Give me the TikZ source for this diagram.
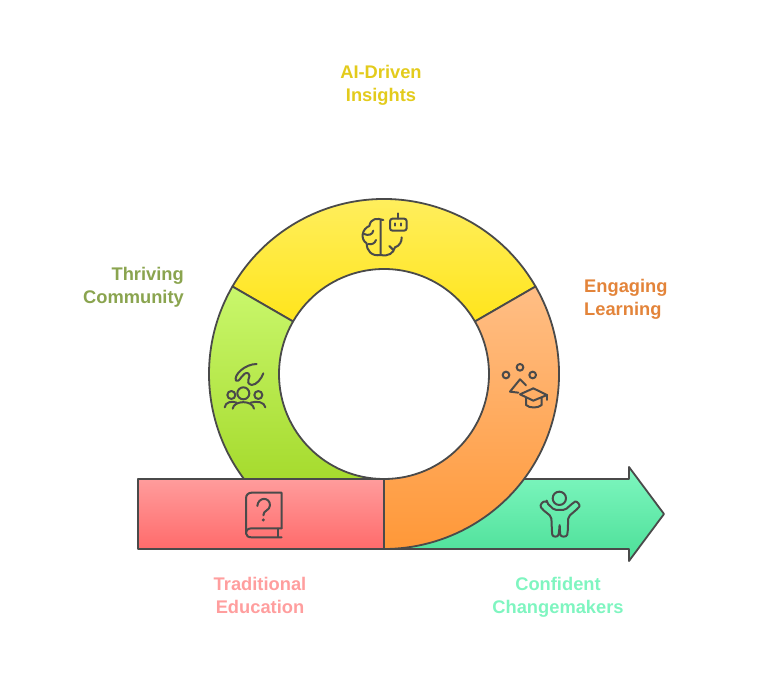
\documentclass[tikz,border=0pt]{standalone}
\usepackage{fontspec}
\setmainfont{Liberation Sans}
\usetikzlibrary{positioning, arrows.meta}
\definecolor{edgegray}{HTML}{4A4A4A}
\definecolor{yellowtop}{HTML}{FFF06A}
\definecolor{yellowbot}{HTML}{FFE100}
\definecolor{greentop}{HTML}{C9F76C}
\definecolor{greenbot}{HTML}{A6DB2E}
\definecolor{orangetop}{HTML}{FFBE85}
\definecolor{orangebot}{HTML}{FF9838}
\definecolor{redtop}{HTML}{FF9C9C}
\definecolor{redbot}{HTML}{FF6B6B}
\definecolor{minttop}{HTML}{7FF7C0}
\definecolor{mintbot}{HTML}{4CDF98}
\definecolor{yellowtxt}{HTML}{E3CB1C}
\definecolor{greentxt}{HTML}{8AA44F}
\definecolor{orangetxt}{HTML}{E3843A}
\definecolor{redtxt}{HTML}{FF9E9E}
\definecolor{minttxt}{HTML}{7FF5C0}

\begin{document}
\begin{tikzpicture}[
  x=1pt, y=1pt,
  seg/.style={draw=edgegray, line width=1.8pt, line join=round},
  icon/.style={draw=edgegray, line width=2pt, line cap=round, line join=round},
  lbl/.style={font=\fontsize{18.3}{23}\selectfont\bfseries, inner sep=0pt}
]
  \useasboundingbox (0,0) rectangle (768,678);
  \coordinate (ringc) at (384,304);

  % ring and bars, back to front
  \draw[seg, top color=yellowtop, bottom color=yellowbot]
    (ringc) ++(30:175) arc[start angle=30, end angle=150, radius=175]
    -- ++(-30:70) arc[start angle=150, end angle=30, radius=105] -- cycle;
  \draw[seg, top color=greentop, bottom color=greenbot]
    (ringc) ++(150:175) arc[start angle=150, end angle=216.87, radius=175]
    -- (384,199) arc[start angle=270, end angle=150, radius=105] -- cycle;
  \draw[seg, top color=minttop, bottom color=mintbot]
    (384,199) -- (629,199) -- (629,211) -- (664,164) -- (629,117) -- (629,129) -- (384,129) -- cycle;
  \draw[seg, top color=redtop, bottom color=redbot] (138,199) rectangle (384,129);
  \draw[seg, top color=orangetop, bottom color=orangebot]
    (ringc) ++(30:175) arc[start angle=30, end angle=-90, radius=175]
    -- (384,199) arc[start angle=-90, end angle=30, radius=105] -- cycle;

  % brain and robot
  \begin{scope}[shift={(340,488)}, x=0.3333pt, y=-0.3333pt]
    \draw[icon] (130,90) .. controls (112,84) and (92,84) .. (88,108)
      .. controls (66,116) and (60,148) .. (80,160)
      .. controls (80,182) and (95,200) .. (122,195) -- (122,92);
    \draw[icon] (72,132) .. controls (85,138) and (98,134) .. (100,122);
    \draw[icon] (85,162) .. controls (95,165) and (105,160) .. (108,150);
    \draw[icon] (122,195) .. controls (145,200) and (160,190) .. (165,172)
      .. controls (178,168) and (186,155) .. (185,142);
    \draw[icon] (148,168) -- (160,180);
    \draw[icon, rounded corners=2.5pt] (150,86) rectangle (200,122);
    \draw[icon] (173,86) -- (173,70);
    \draw[icon] (165,100) -- (165,107) (184,100) -- (184,107);
  \end{scope}

  % people and swoosh
  \begin{scope}[shift={(210,328)}, x=0.3333pt, y=-0.3333pt]
    \draw[icon] (100,130) circle[radius=18];
    \draw[icon] (64,135) circle[radius=12];
    \draw[icon] (145,135) circle[radius=12];
    \draw[icon] (68,176) .. controls (72,150) and (128,150) .. (132,176);
    \draw[icon] (44,172) .. controls (46,156) and (66,152) .. (80,158);
    \draw[icon] (166,172) .. controls (164,156) and (140,152) .. (122,158);
    \draw[icon] (140,42) .. controls (105,42) and (70,75) .. (78,92)
      .. controls (88,102) and (98,62) .. (115,70)
      .. controls (128,78) and (100,98) .. (125,105)
      .. controls (140,105) and (155,85) .. (160,70);
  \end{scope}

  % shapes and mortarboard
  \begin{scope}[shift={(490,328)}, x=0.3333pt, y=-0.3333pt]
    \draw[icon] (48,75) circle[radius=10];
    \draw[icon] (90,52) circle[radius=10];
    \draw[icon] (128,75) circle[radius=10];
    \draw[icon] (85,128) -- (60,125) -- (90,88) -- (108,106);
    \draw[icon] (90,133) -- (130,115) -- (171,135) -- (130,152) -- cycle;
    \draw[icon] (108,145) -- (108,165) .. controls (118,175) and (145,175) .. (155,165) -- (155,145);
    \draw[icon] (171,135) -- (171,150);
  \end{scope}

  % book with question mark
  \begin{scope}[shift={(230,198)}, x=0.3333pt, y=-0.3333pt]
    \draw[icon] (155,145) -- (155,38) -- (65,38) .. controls (55,38) and (48,45) .. (48,55) -- (48,160)
      .. controls (48,168) and (55,172) .. (65,172) -- (155,172);
    \draw[icon] (155,145) -- (65,145) .. controls (55,145) and (48,150) .. (48,160);
    \draw[icon] (145,146) -- (145,171);
    \draw[icon] (82,78) .. controls (84,50) and (120,50) .. (120,76)
      .. controls (120,92) and (100,90) .. (100,106);
    \fill[edgegray] (100,120) circle[radius=5];
  \end{scope}

  % person with raised arms
  \begin{scope}[shift={(520,218)}, x=0.3333pt, y=-0.3333pt]
    \draw[icon] (118,115) circle[radius=20];
    \draw[icon, rounded corners=2pt] (80,128) -- (103,150) -- (135,150) -- (160,128)
      .. controls (170,122) and (182,135) .. (174,145) -- (145,170) -- (143,218)
      .. controls (140,232) and (122,232) .. (120,218) -- (119,192) -- (117,218)
      .. controls (114,232) and (98,232) .. (96,218) -- (94,170) -- (66,147)
      .. controls (58,135) and (70,122) .. (80,128) -- cycle;
  \end{scope}

  % labels
  \node[lbl, text=yellowtxt, align=center] (insights) at (381,592.5) {AI-Driven\\Insights};
  \node[lbl, text=greentxt, align=right, anchor=east] (community) at (184,390.5) {Thriving\\Community};
  \node[lbl, text=orangetxt, align=left, anchor=west] (learning) at (584,378.5) {Engaging\\Learning};
  \node[lbl, text=redtxt, align=center] (tradition) at (260,82.5) {Traditional\\Education};
  \node[lbl, text=minttxt, align=center] (changers) at (558,80.5) {Confident\\Changemakers};
\end{tikzpicture}
\end{document}
